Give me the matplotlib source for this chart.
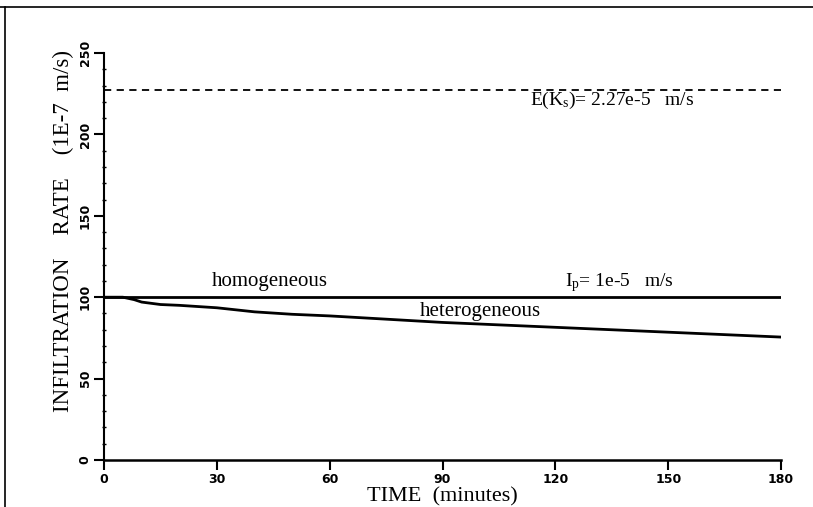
import numpy as np
import matplotlib.pyplot as plt
from matplotlib.lines import Line2D

## data
time = [0, 5, 8, 10, 15, 20, 30, 40, 50, 60, 75, 90, 105, 120, 135, 150, 165, 180]
homog = [100] * len(time)
hetero = [100, 100, 98.5, 97, 95.5, 95, 93.5, 91, 89.5, 88.5, 86.5, 84.5, 83, 81.5, 80, 78.5, 77, 75.5]
ks_mean = 227
x_ticks = [0, 30, 60, 90, 120, 150, 180]
y_ticks = [0, 50, 100, 150, 200, 250]

plt.rcParams['font.family'] = 'Liberation Serif'

fig = plt.figure(figsize=(8.13, 5.07), dpi=100)
ax = fig.add_axes([0.128, 0.0927, 0.8327, 0.8028])

ax.plot(time, homog, color='black', lw=2.0)
ax.plot(time, hetero, color='black', lw=2.0)
ax.plot([0, 180], [ks_mean, ks_mean], color='black', lw=1.3, dashes=(4, 3))

ax.text(44, 109.5, 'homogeneous', fontsize=15, ha='center', va='center')
ax.text(100, 91, 'heterogeneous', fontsize=15, ha='center', va='center')
ax.text(137, 109, r'$\mathregular{I_p}$= 1e-5   m/s', fontsize=14, ha='center', va='center')
ax.text(135, 221, r'$\mathregular{E(K_s)}$= 2.27e-5   m/s', fontsize=14, ha='center', va='center')

ax.set_xlim(0, 180)
ax.set_ylim(0, 250)
ax.spines['top'].set_visible(False)
ax.spines['right'].set_visible(False)
ax.spines['left'].set_linewidth(1.5)
ax.spines['bottom'].set_linewidth(1.8)

ax.set_xticks(x_ticks)
ax.set_yticks(y_ticks)
ax.set_yticks(np.arange(0, 251, 10), minor=True)
ax.tick_params(axis='both', which='major', direction='out', length=7, width=1.5, labelsize=9, pad=2)
ax.tick_params(axis='y', which='minor', direction='inout', length=3, width=1)
for lab in ax.get_xticklabels() + ax.get_yticklabels():
    lab.set_fontweight('bold')
    lab.set_family('DejaVu Sans')
for lab in ax.get_yticklabels():
    lab.set_rotation(90)
    lab.set_va('center')

ax.set_xlabel('TIME  (minutes)', fontsize=16, labelpad=1)
fig.text(0.078, 0.545, 'INFILTRATION    RATE    (1E-7  m/s)', fontsize=16.5,
         rotation=90, ha='center', va='center')

## scanned page border
fig.add_artist(Line2D([0.0, 1.0], [0.986, 0.986], color='black', lw=1.2, transform=fig.transFigure))
fig.add_artist(Line2D([0.006, 0.006], [0.986, 0.0], color='black', lw=1.2, transform=fig.transFigure))

fig.savefig('out.png', dpi=100)
